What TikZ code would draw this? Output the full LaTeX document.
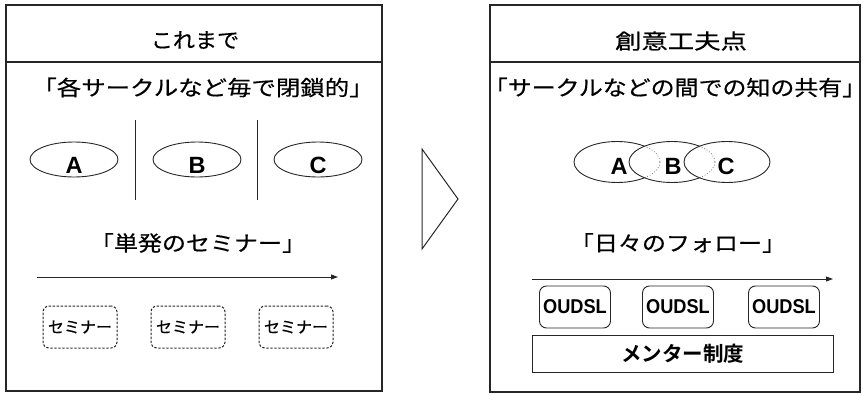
\documentclass[tikz,border=0pt]{standalone}
\usepackage{fontspec}
\setmainfont{Liberation Sans}
\newfontfamily\jp{Noto Sans CJK JP}[FakeBold=0.5]
\newfontfamily\jpb{Noto Sans CJK JP Bold}
\usetikzlibrary{shapes.geometric,arrows.meta}
\begin{document}
\begin{tikzpicture}[x=1pt,y=-1pt,
  frame/.style={draw=black!85,line width=1.1pt},
  jtext/.style={inner sep=0pt,font=\jp\fontsize{21}{21}\selectfont},
  lbl/.style={inner sep=0pt,font=\bfseries\fontsize{23.5}{23.5}\selectfont},
  circ/.style={ellipse,draw=black!85,line width=0.9pt,minimum width=88pt,minimum height=35pt,inner sep=0pt},
  semi/.style={draw=black!85,dash pattern=on 2.4pt off 1.6pt,rounded corners=6pt,line width=1pt,minimum width=74pt,minimum height=42pt,inner sep=0pt,font=\jp\fontsize{16}{16}\selectfont},
  oud/.style={draw=black!85,rounded corners=7pt,line width=0.9pt,minimum width=71pt,minimum height=42pt,inner sep=0pt,font=\bfseries\fontsize{20}{20}\selectfont},
  timeline/.style={draw=black!85,line width=0.9pt,-{Triangle[length=7pt,width=5pt]}},
  overlap/.style={draw=black!55,dotted,line width=0.8pt}
]
\useasboundingbox (0,0) rectangle (863,394);

% ---------- left panel ----------
\draw[frame] (6,5) rectangle (382,391);
\draw[frame] (6,62) -- (382,62);
\node[jtext,xscale=1.05] (t1) at (195,40) {これまで};
\node[jtext,xscale=1.163] (s1) at (203,87.5) {「各サークルなど毎で閉鎖的」};

\node[circ] (eA) at (74,159.5) {};
\node[circ] (eB) at (197,159.5) {};
\node[circ] (eC) at (318,159.5) {};
\node[lbl] (lA) at (74,165) {A};
\node[lbl] (lB) at (197,165) {B};
\node[lbl] (lC) at (318,165) {C};

\coordinate (d1a) at (135,120); \coordinate (d1b) at (135,200);
\coordinate (d2a) at (257,120); \coordinate (d2b) at (257,200);
\draw[draw=black!85,line width=0.9pt] (d1a) -- (d1b);
\draw[draw=black!85,line width=0.9pt] (d2a) -- (d2b);

\node[jtext,xscale=1.143] (s2) at (198,243) {「単発のセミナー」};
\coordinate (a1s) at (37,277); \coordinate (a1e) at (338,277);
\draw[timeline] (a1s) -- (a1e);

\node[semi] (m1) at (80,327) {セミナー};
\node[semi] (m2) at (188,327) {セミナー};
\node[semi] (m3) at (296,327) {セミナー};

% ---------- chevron ----------
\coordinate (c1) at (422,149); \coordinate (c2) at (458,199); \coordinate (c3) at (422,249);
\draw[draw=black!85,line width=1pt,line join=miter] (c1) -- (c2) -- (c3) -- cycle;

% ---------- right panel ----------
\draw[frame] (490,5) rectangle (860,392);
\draw[frame] (490,62) -- (860,62);
\node[jtext,xscale=1.256] (t2) at (681,41) {創意工夫点};
\node[jtext,xscale=1.14] (s3) at (675,87.5) {「サークルなどの間での知の共有」};

% overlapping circles
\draw[draw=black!85,line width=0.9pt] (617,162) ellipse [x radius=43,y radius=20.5];
\fill[white] (672,162) ellipse [x radius=43,y radius=20.5];
\begin{scope}
  \clip (672,162) ellipse [x radius=43,y radius=20.5];
  \draw[overlap] (617,162) ellipse [x radius=43,y radius=20.5];
\end{scope}
\draw[draw=black!85,line width=0.9pt] (672,162) ellipse [x radius=43,y radius=20.5];
\fill[white] (727,162) ellipse [x radius=43,y radius=20.5];
\begin{scope}
  \clip (727,162) ellipse [x radius=43,y radius=20.5];
  \draw[overlap] (672,162) ellipse [x radius=43,y radius=20.5];
\end{scope}
\draw[draw=black!85,line width=0.9pt] (727,162) ellipse [x radius=43,y radius=20.5];
\node[lbl] (rA) at (619,166.5) {A};
\node[lbl] (rB) at (673,166.5) {B};
\node[lbl] (rC) at (726,166.5) {C};

\node[jtext,xscale=1.143] (s4) at (678,243) {「日々のフォロー」};
\coordinate (a2s) at (532,279); \coordinate (a2e) at (833,279);
\draw[timeline] (a2s) -- (a2e);

\node[oud] (o1) at (575,307) {\scalebox{0.91}[1]{OUDSL}};
\node[oud] (o2) at (678,307) {\scalebox{0.91}[1]{OUDSL}};
\node[oud] (o3) at (784,307) {\scalebox{0.91}[1]{OUDSL}};

\node[draw=black!85,line width=0.9pt,minimum width=301pt,minimum height=37pt,inner sep=0pt,font=\jpb\fontsize{20.5}{20.5}\selectfont] (mentor) at (682.5,353.5) {メンター制度};
\end{tikzpicture}
\end{document}
